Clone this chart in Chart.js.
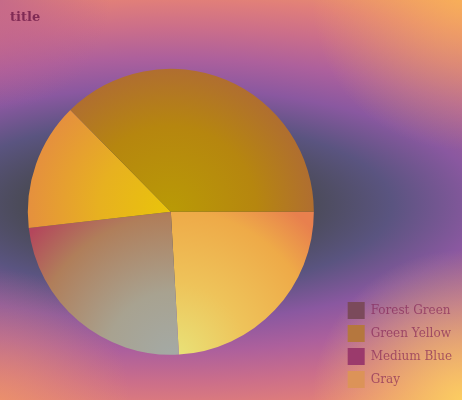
<!DOCTYPE html>
<html>
<head>
<meta charset="utf-8">
<script src="https://cdn.jsdelivr.net/npm/chart.js@4"></script>
<style>
  html, body { margin: 0; padding: 0; }
  #wrap { width: 462px; height: 400px; }
</style>
</head>
<body>
<div id="wrap"><canvas id="c" width="462" height="400"></canvas></div>
<script>
// legend order
const labels = ['Forest Green', 'Green Yellow', 'Medium Blue', 'Gray'];
const values = [37.4, 14.4, 24.1, 24.1];
const swatches = ['#7b4a5b', '#b5773e', '#9b3a6c', '#dc9358'];
const textColor = 'rgba(130,35,85,0.66)';

// slice gradients (inner -> outer), keyed like labels
const sliceStops = {
  'Forest Green': [[0, '#b99a06'], [0.6, '#b6860f'], [1, '#b06e30']],
  'Green Yellow': [[0, '#e9c40a'], [0.5, '#e7b120'], [1, '#e5903e']],
  'Medium Blue':  [[0, '#a4aaa6'], [0.35, '#a8a290'], [0.75, '#b07e5a'], [1, '#b4465c']],
  'Gray':         [[0, '#e8e47a'], [0.4, '#eec35a'], [0.78, '#eeaa48'], [1, '#e8804e']]
};

// pie goes counter-clockwise from 3 o'clock in the source, chart.js goes clockwise
const dataLabels = labels.slice().reverse();
const dataValues = values.slice().reverse();

function sliceFill(ctx) {
  const chart = ctx.chart;
  const a = chart.chartArea;
  const name = dataLabels[ctx.dataIndex];
  if (!a) return swatches[labels.indexOf(name)];
  const cx = (a.left + a.right) / 2, cy = (a.top + a.bottom) / 2, R = 143;
  const c = chart.ctx;
  let g;
  if (name === 'Medium Blue' || name === 'Gray') {
    g = c.createRadialGradient(cx + 2, cy + R + 4, 0, cx + 2, cy + R + 4, R * 1.33);
  } else {
    g = c.createRadialGradient(cx, cy, 0, cx, cy, R);
  }
  sliceStops[name].forEach(s => g.addColorStop(s[0], s[1]));
  return g;
}

const bgPlugin = {
  id: 'bg',
  beforeDraw(chart) {
    const c = chart.ctx, w = chart.width, h = chart.height;
    c.save();
    c.translate(165, 205);
    c.scale(2.7, 1);
    const g = c.createRadialGradient(0, 0, 0, 0, 0, 300);
    g.addColorStop(0, '#44444c');
    g.addColorStop(0.17, '#4a4a56');
    g.addColorStop(0.28, '#5a5480');
    g.addColorStop(0.39, '#8a58a0');
    g.addColorStop(0.49, '#ad609c');
    g.addColorStop(0.59, '#cb6e8a');
    g.addColorStop(0.68, '#e07e7a');
    g.addColorStop(0.78, '#ee9866');
    g.addColorStop(0.88, '#f8b856');
    g.addColorStop(1, '#ffd560');
    c.fillStyle = g;
    c.fillRect(-200, -300, 400, 600);
    c.restore();
    const spots = [
      [0, 0, 110, 'rgba(185,95,145,0.7)'],
      [462, 0, 150, 'rgba(255,190,80,0.6)'],
      [462, 400, 150, 'rgba(255,215,95,0.85)'],
      [0, 400, 130, 'rgba(245,160,95,0.5)']
    ];
    spots.forEach(s => {
      const r = c.createRadialGradient(s[0], s[1], 0, s[0], s[1], s[2]);
      r.addColorStop(0, s[3]);
      r.addColorStop(1, s[3].replace(/[\d.]+\)$/, '0)'));
      c.fillStyle = r;
      c.fillRect(0, 0, w, h);
    });
  },
  afterLayout(chart) {
    // title sits 10px in from the edge while the plot keeps the full width
    chart.titleBlock.left = 10;
  }
};

new Chart(document.getElementById('c'), {
  type: 'pie',
  data: {
    labels: dataLabels,
    datasets: [{
      data: dataValues,
      backgroundColor: sliceFill,
      borderWidth: 0,
      radius: 143
    }]
  },
  options: {
    responsive: false,
    animation: false,
    rotation: 90,
    layout: { padding: { left: 0, right: 0, top: 0, bottom: 6 } },
    plugins: {
      tooltip: { enabled: false },
      title: {
        display: true,
        text: 'title',
        align: 'start',
        color: 'rgba(115,30,75,0.85)',
        font: { family: 'DejaVu Serif', size: 13, weight: 'bold' },
        padding: { top: 10, bottom: 4 }
      },
      legend: {
        position: 'right',
        align: 'end',
        labels: {
          boxWidth: 17,
          boxHeight: 17,
          padding: 6,
          color: textColor,
          font: { family: 'DejaVu Serif', size: 12 },
          generateLabels: () => labels.map((t, i) => ({
            text: t,
            fillStyle: swatches[i],
            strokeStyle: swatches[i],
            fontColor: textColor,
            lineWidth: 0,
            hidden: false,
            index: labels.length - 1 - i
          }))
        }
      }
    }
  },
  plugins: [bgPlugin]
});
</script>
</body>
</html>
